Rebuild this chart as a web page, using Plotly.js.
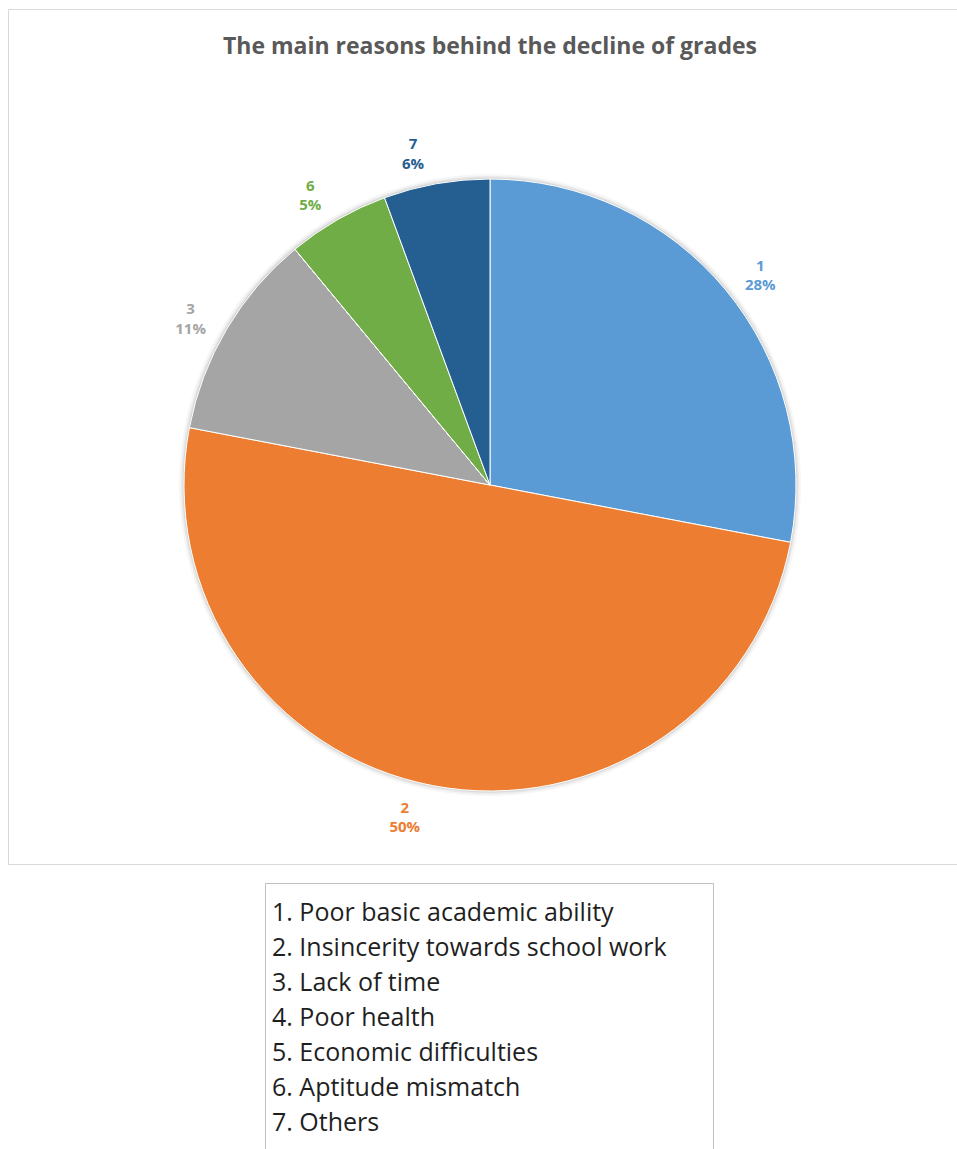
<!DOCTYPE html>
<html>
<head>
<meta charset="utf-8">
<script src="https://cdn.plot.ly/plotly-3.0.1.min.js"></script>
<style>html,body{margin:0;padding:0;background:#fff;}#chart{width:957px;height:1149px;}</style>
</head>
<body>
<div id="chart"></div>
<script>
const categories = ["1", "2", "3", "4", "5", "6", "7"];
const shares = [28, 50, 11, 0, 0, 5.4, 5.6];
const reasonLabels = [
  "1. Poor basic academic ability",
  "2. Insincerity towards school work",
  "3. Lack of time",
  "4. Poor health",
  "5. Economic difficulties",
  "6. Aptitude mismatch",
  "7. Others"
];
const sliceColors = ["#5B9BD5", "#ED7D31", "#A5A5A5", "#FFC000", "#4472C4", "#70AD47", "#255E91"];

const W = 957, H = 1149;
const px = v => v / W, py = v => 1 - v / H;
const CX = 490, CY = 485, R = 306, RL = 318;
const dom = r => ({ x: [px(CX - r), px(CX + r)], y: [py(CY + r), py(CY - r)] });

const base = {
  type: "pie", labels: categories, values: shares, sort: false,
  direction: "clockwise", rotation: 0, showlegend: false
};

// soft glow behind the pie (same data, neutral translucent fill)
const glowTraces = [[5, 0.035], [3, 0.05], [1.5, 0.07]].map(([d, a]) => Object.assign({}, base, {
  marker: { colors: sliceColors.map(() => `rgba(0,0,0,${a})`), line: { width: 0 } },
  textinfo: "none", hoverinfo: "skip", domain: dom(R + d)
}));

const pieTrace = Object.assign({}, base, {
  marker: { colors: sliceColors, line: { color: "#ffffff", width: 1 } },
  textinfo: "none",
  hoverinfo: "label+percent",
  domain: dom(R)
});

// transparent companion pie on the same data, only carrying the outside data labels
const labelTrace = Object.assign({}, base, {
  marker: { colors: sliceColors.map(() => "rgba(0,0,0,0)"), line: { width: 0 } },
  textposition: "outside",
  texttemplate: shares.map(v => v > 0 ? "%{label}<br>%{percent:.0%}" : ""),
  outsidetextfont: { family: "Open Sans, sans-serif", size: 15, color: sliceColors, weight: "bold" },
  hoverinfo: "skip",
  domain: dom(RL)
});

const shapes = [
  { type: "rect", xref: "paper", yref: "paper", x0: px(8.5), x1: px(960), y0: py(864.5), y1: py(9.5),
    line: { color: "#d9d9d9", width: 1 }, fillcolor: "rgba(0,0,0,0)" },
  { type: "rect", xref: "paper", yref: "paper", x0: px(265.5), x1: px(713.5), y0: py(1152), y1: py(883.5),
    line: { color: "#bfbfbf", width: 1 }, fillcolor: "rgba(0,0,0,0)" }
];

const annotations = reasonLabels.map((t, i) => ({
  xref: "paper", yref: "paper", x: px(270), y: py(911 + 35 * i),
  xanchor: "left", yanchor: "middle", showarrow: false, text: t,
  font: { family: "Open Sans, sans-serif", size: 25, color: "#1f1f1f" }
}));

const layout = {
  width: W, height: H,
  margin: { l: 0, r: 0, t: 0, b: 0 },
  paper_bgcolor: "#ffffff",
  title: { text: "The main reasons behind the decline of grades", x: px(490), xanchor: "center",
    y: py(46), yanchor: "middle", yref: "paper",
    font: { family: "Open Sans, sans-serif", size: 23, color: "#595959", weight: "bold" } },
  shapes: shapes,
  annotations: annotations
};

Plotly.newPlot("chart", [...glowTraces, pieTrace, labelTrace], layout, { displayModeBar: false, staticPlot: true });
</script>
</body>
</html>
